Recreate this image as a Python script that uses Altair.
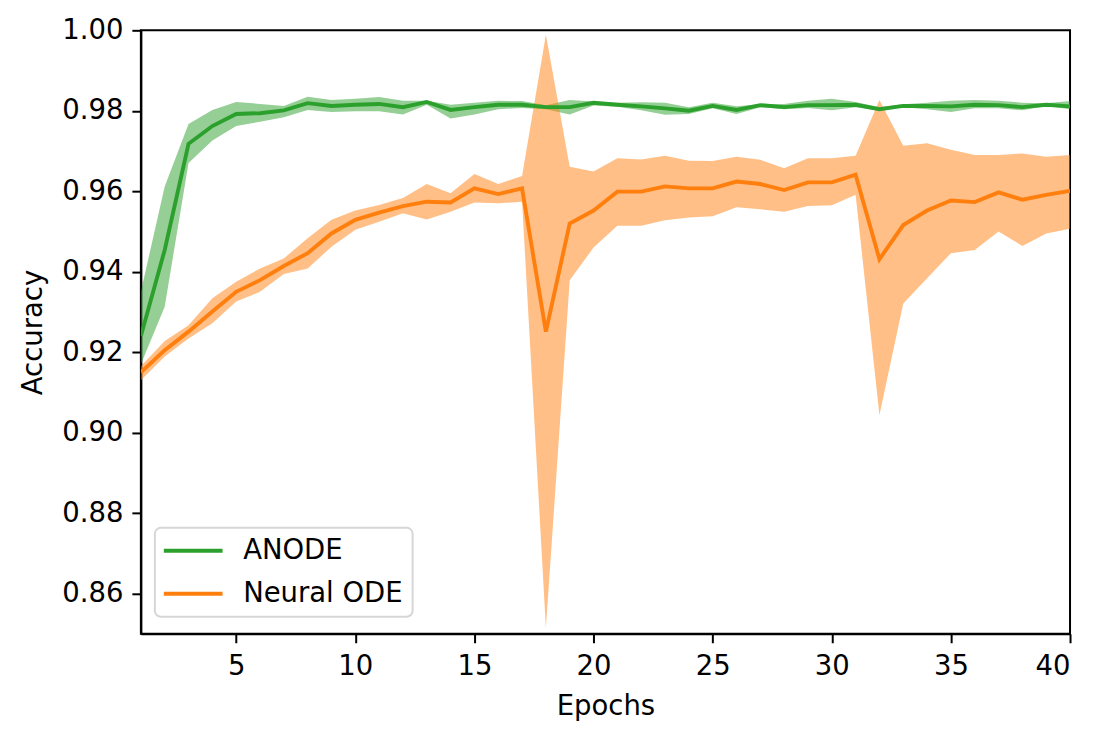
import altair as alt
import pandas as pd

epochs = list(range(1, 41))

anode_mean = [0.9240, 0.9454, 0.9718, 0.9762, 0.9792, 0.9794, 0.9801, 0.9819, 0.9812, 0.9815,
              0.9817, 0.9809, 0.9822, 0.9802, 0.9809, 0.9815, 0.9815, 0.9809, 0.9809, 0.9820,
              0.9815, 0.9811, 0.9806, 0.9800, 0.9812, 0.9802, 0.9814, 0.9809, 0.9814, 0.9814,
              0.9815, 0.9804, 0.9812, 0.9812, 0.9811, 0.9815, 0.9814, 0.9809, 0.9815, 0.9811]
anode_hi = [0.9350, 0.9612, 0.9767, 0.9802, 0.9822, 0.9817, 0.9812, 0.9835, 0.9827, 0.9830,
            0.9834, 0.9825, 0.9825, 0.9815, 0.9820, 0.9825, 0.9824, 0.9814, 0.9827, 0.9823,
            0.9820, 0.9821, 0.9820, 0.9809, 0.9820, 0.9811, 0.9816, 0.9817, 0.9825, 0.9830,
            0.9822, 0.9809, 0.9816, 0.9820, 0.9825, 0.9827, 0.9825, 0.9820, 0.9819, 0.9824]
anode_lo = [0.9170, 0.9313, 0.9670, 0.9726, 0.9762, 0.9773, 0.9784, 0.9802, 0.9797, 0.9799,
            0.9799, 0.9791, 0.9815, 0.9781, 0.9791, 0.9804, 0.9807, 0.9804, 0.9791, 0.9813,
            0.9810, 0.9801, 0.9790, 0.9792, 0.9806, 0.9792, 0.9809, 0.9804, 0.9807, 0.9801,
            0.9809, 0.9801, 0.9809, 0.9804, 0.9797, 0.9806, 0.9806, 0.9801, 0.9812, 0.9804]

node_mean = [0.9150, 0.9205, 0.9251, 0.9301, 0.9350, 0.9379, 0.9414, 0.9446, 0.9495, 0.9529,
             0.9547, 0.9563, 0.9574, 0.9572, 0.9607, 0.9593, 0.9607, 0.9251, 0.9520, 0.9552,
             0.9599, 0.9599, 0.9612, 0.9607, 0.9607, 0.9624, 0.9618, 0.9603, 0.9622, 0.9622,
             0.9641, 0.9431, 0.9516, 0.9552, 0.9577, 0.9573, 0.9597, 0.9579, 0.9591, 0.9601]
node_hi = [0.9165, 0.9228, 0.9267, 0.9334, 0.9375, 0.9408, 0.9433, 0.9483, 0.9529, 0.9552,
           0.9566, 0.9583, 0.9618, 0.9595, 0.9643, 0.9618, 0.9638, 0.9989, 0.9661, 0.9649,
           0.9682, 0.9679, 0.9688, 0.9676, 0.9675, 0.9686, 0.9678, 0.9657, 0.9682, 0.9682,
           0.9688, 0.9827, 0.9713, 0.9719, 0.9703, 0.9690, 0.9690, 0.9694, 0.9686, 0.9690]
node_lo = [0.9130, 0.9189, 0.9234, 0.9272, 0.9326, 0.9350, 0.9394, 0.9408, 0.9462, 0.9504,
           0.9524, 0.9545, 0.9530, 0.9549, 0.9572, 0.9570, 0.9574, 0.8515, 0.9379, 0.9460,
           0.9514, 0.9514, 0.9528, 0.9535, 0.9538, 0.9560, 0.9555, 0.9549, 0.9563, 0.9565,
           0.9591, 0.9044, 0.9321, 0.9384, 0.9446, 0.9454, 0.9500, 0.9464, 0.9495, 0.9507]

series_names = ["ANODE", "Neural ODE"]
series_colors = ["#2ca02c", "#ff7f0e"]
x_ticks = [5, 10, 15, 20, 25, 30, 35, 40]
y_ticks = [0.86, 0.88, 0.90, 0.92, 0.94, 0.96, 0.98, 1.00]

rows = []
for name, m, hi, lo in [("ANODE", anode_mean, anode_hi, anode_lo),
                        ("Neural ODE", node_mean, node_hi, node_lo)]:
    for e, a, b, c in zip(epochs, m, hi, lo):
        rows.append({"epoch": e, "series": name, "model": name, "mean": a, "hi": b, "lo": c})
df = pd.DataFrame(rows)

FONT = "DejaVu Sans"
FS = 27.5

x = alt.X("epoch:Q",
          scale=alt.Scale(domain=[1, 40], nice=False, zero=False),
          axis=alt.Axis(values=x_ticks, title="Epochs", format="d"))
y_scale = alt.Scale(domain=[0.85, 1.00], nice=False, zero=False)

band = alt.Chart(df).mark_area(opacity=0.5, clip=True).encode(
    x=x,
    y=alt.Y("lo:Q", scale=y_scale,
            axis=alt.Axis(values=y_ticks, format=".2f", title="Accuracy")),
    y2="hi:Q",
    fill=alt.Fill("series:N", scale=alt.Scale(domain=series_names, range=series_colors),
                  legend=None),
)

line = alt.Chart(df).mark_line(strokeWidth=3.9, clip=True).encode(
    x=x,
    y=alt.Y("mean:Q", scale=y_scale),
    stroke=alt.Stroke("model:N",
                      scale=alt.Scale(domain=series_names, range=series_colors),
                      legend=alt.Legend(title=None, orient="none", legendX=14, legendY=498,
                                        symbolType="M-2.45,0H2.45", symbolSize=576,
                                        symbolStrokeWidth=4, symbolOffset=15.35,
                                        labelOffset=36,
                                        labelFontSize=FS, labelFont=FONT,
                                        labelColor="black",
                                        padding=9, rowPadding=15,
                                        strokeColor="#d6d6d6", fillColor="white",
                                        cornerRadius=6)),
)

chart = alt.layer(band, line).resolve_scale(
    fill="independent", stroke="independent"
).properties(
    width=930, height=604,
    autosize=alt.AutoSizeParams(type="none"),
    padding={"left": 133, "top": 22, "right": 30, "bottom": 100},
).configure_view(
    stroke="black", strokeWidth=2
).configure_legend(
    strokeWidth=2
).configure_axis(
    grid=False, domain=True, domainColor="black", domainWidth=2,
    tickColor="black", tickWidth=2, tickSize=9,
    labelFont=FONT, labelFontSize=FS, labelColor="black",
    titleFont=FONT, titleFontSize=FS, titleColor="black", titleFontWeight="normal",
).configure_axisX(
    labelPadding=10, titlePadding=12
).configure_axisY(
    labelPadding=9, titlePadding=14
)

chart.save("out.html", embed_options={"renderer": "svg", "actions": False})
